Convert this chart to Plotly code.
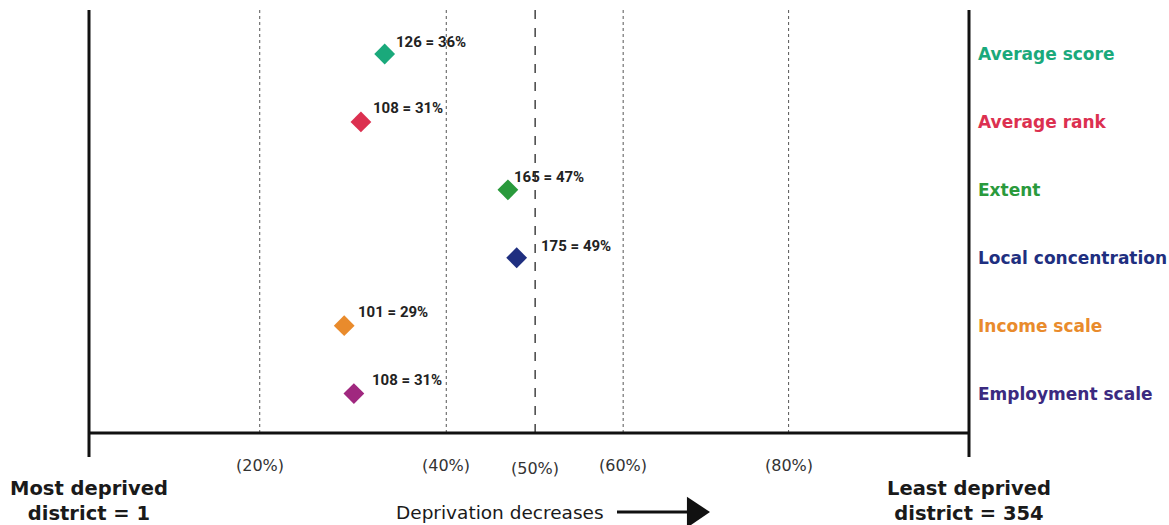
import plotly.graph_objects as go

# ---- data ----
measures = ["Average score", "Average rank", "Extent", "Local concentration",
            "Income scale", "Employment scale"]
ranks = [126, 108, 165, 175, 101, 108]
rank_pct = [36, 31, 47, 49, 29, 31]
# position along the axis (percent of range 1..354)
plotted_pct = [33.6, 30.9, 47.6, 48.6, 29.0, 30.1]
tick_labels = ["(20%)", "(40%)", "(50%)", "(60%)", "(80%)"]
# reference-line positions as drawn in the picture (percent of axis)
tick_pos = [19.4, 40.6, 50.7, 60.7, 79.5]
total_districts = 354

# ---- styles ----
marker_colors = ["#1aa97b", "#dc3050", "#2a9a3c", "#1f2f80", "#e98b2c", "#a0287f"]
label_colors = ["#1aa97b", "#dc3050", "#2a9a3c", "#1f2f80", "#e98b2c", "#3b2a80"]
label_shift = [(9, 12), (10, 14), (4, 13), (22, 12), (12, 14), (16, 14)]

yidx = list(range(len(measures)))

fig = go.Figure()
fig.add_trace(go.Scatter(
    x=plotted_pct, y=yidx, mode="markers",
    marker=dict(symbol="diamond", size=16, color=marker_colors, line=dict(width=0)),
    hoverinfo="skip", showlegend=False))

shapes = []
for t, g in zip(tick_labels, tick_pos):
    if t == "(50%)":
        shapes.append(dict(type="line", xref="x", yref="paper", x0=g, x1=g, y0=0, y1=1,
                           line=dict(color="#444", width=1.5, dash="dash")))
    else:
        shapes.append(dict(type="line", xref="x", yref="paper", x0=g, x1=g, y0=0, y1=1,
                           line=dict(color="#555", width=1, dash="dot")))
# frame lines
shapes.append(dict(type="line", xref="paper", yref="paper", x0=0, x1=1, y0=0, y1=0,
                   line=dict(color="#111", width=3)))
for xp in (0, 1):
    shapes.append(dict(type="line", xref="paper", yref="paper", x0=xp, x1=xp, y0=-0.057, y1=1,
                       line=dict(color="#111", width=3)))
# arrow
shapes.append(dict(type="line", xref="paper", yref="paper", x0=0.600, x1=0.69,
                   y0=-0.1868, y1=-0.1868, line=dict(color="#111", width=3)))
shapes.append(dict(type="path", xref="paper", yref="paper",
                   path="M 0.6795 -0.151 L 0.7057 -0.1868 L 0.6795 -0.224 Z",
                   fillcolor="#111", line=dict(color="#111", width=0)))

ann = []
for i, (m, c) in enumerate(zip(measures, label_colors)):
    ann.append(dict(x=1.0085, xref="paper", y=i, yref="y", text=m, showarrow=False,
                    xanchor="left", yanchor="middle",
                    font=dict(family="DejaVu Sans", size=17, color=c, weight="bold")))
for i in yidx:
    dx, dy = label_shift[i]
    ann.append(dict(x=plotted_pct[i], y=i, xref="x", yref="y",
                    text=f"{ranks[i]} = {rank_pct[i]}%", showarrow=False,
                    xanchor="left", yanchor="middle", xshift=dx, yshift=dy,
                    font=dict(family="Roboto", size=15, color="#222", weight="bold")))
for t, p in zip(tick_labels, tick_pos):
    ann.append(dict(x=p, xref="x", y=-0.078 if t != "(50%)" else -0.083, yref="paper", text=t,
                    showarrow=False, xanchor="center", yanchor="middle",
                    font=dict(family="DejaVu Sans", size=16, color="#333")))
ann.append(dict(x=0, xref="paper", y=-0.099, yref="paper",
                text="Most deprived<br>district = 1", showarrow=False,
                xanchor="center", yanchor="top", align="center",
                font=dict(family="DejaVu Sans", size=19.5, color="#1a1a1a", weight="bold")))
ann.append(dict(x=1, xref="paper", y=-0.099, yref="paper",
                text=f"Least deprived<br>district = {total_districts}", showarrow=False,
                xanchor="center", yanchor="top", align="center",
                font=dict(family="DejaVu Sans", size=19.5, color="#1a1a1a", weight="bold")))
ann.append(dict(x=0.588, xref="paper", y=-0.1868, yref="paper",
                text="Deprivation decreases", showarrow=False,
                xanchor="right", yanchor="middle",
                font=dict(family="DejaVu Sans", size=18.5, color="#1a1a1a")))

fig.update_layout(
    width=1169, height=525,
    margin=dict(l=89, r=200, t=10, b=92),
    paper_bgcolor="white", plot_bgcolor="white",
    xaxis=dict(range=[0, 100], showgrid=False, zeroline=False, showticklabels=False,
               showline=False, ticks=""),
    yaxis=dict(range=[5.58, -0.648], showgrid=False, zeroline=False, showticklabels=False,
               showline=False, ticks=""),
    shapes=shapes, annotations=ann,
)
fig.write_html("out.html", config={"displayModeBar": False},
               post_script="document.body.style.margin='0';")
